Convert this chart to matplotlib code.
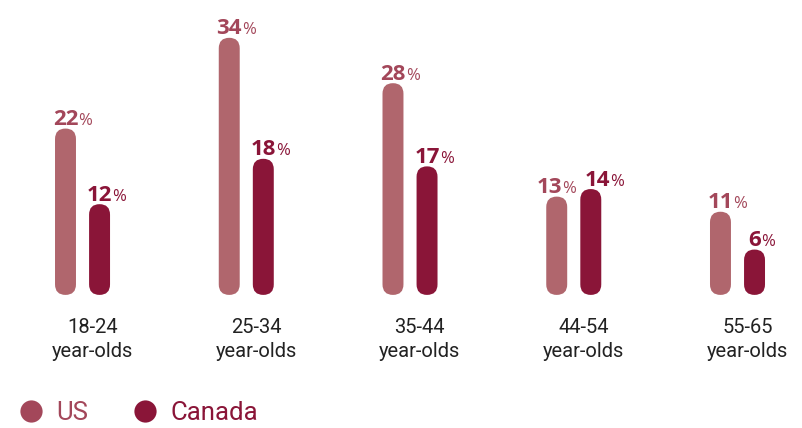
import matplotlib.pyplot as plt
from matplotlib.patches import FancyBboxPatch
from matplotlib.lines import Line2D

groups = ['18-24\nyear-olds', '25-34\nyear-olds', '35-44\nyear-olds',
          '44-54\nyear-olds', '55-65\nyear-olds']
us = [22, 34, 28, 13, 11]
canada = [12, 18, 17, 14, 6]

us_bar = '#b0666d'
us_text = '#a3475a'
ca_col = '#8a1538'

fig = plt.figure(figsize=(8.03, 4.28), dpi=100)
ax = fig.add_axes([0, 0, 1, 1])
ax.set_xlim(-0.504, 4.40)
ax.set_ylim(-17.6, 39.0)
ax.axis('off')

# rounded bars: corner radius is half the width, stretched by the axes aspect
w = 0.128
off = 0.104
to_px = ax.transData.transform
px_x = to_px((1, 0))[0] - to_px((0, 0))[0]
px_y = to_px((0, 1))[1] - to_px((0, 0))[1]
aspect = px_x / px_y

def bar(x, v, color):
    p = FancyBboxPatch((x - w / 2, 0), w, v,
                       boxstyle=f'round,pad=0,rounding_size={w / 2}',
                       mutation_aspect=aspect, fc=color, ec='none')
    ax.add_patch(p)

def value_label(x, v, color, dx=0):
    num = ax.annotate(str(v), (x, v), xytext=(dx, 2.5), textcoords='offset points',
                      ha='center', va='baseline', fontsize=16, fontweight='bold',
                      color=color, family='Open Sans')
    ax.annotate('%', (1, v), xycoords=(num, 'data'), xytext=(0, 2.5),
                textcoords='offset points', ha='left', va='baseline',
                fontsize=12, color=color, family='Open Sans')

for i, (u, c) in enumerate(zip(us, canada)):
    bar(i - off, u, us_bar)
    bar(i + off, c, ca_col)
    # push the labels apart when both bars are about the same height
    dx = 5 if abs(u - c) < 3 else 0
    value_label(i - off, u, us_text, -dx)
    value_label(i + off, c, ca_col, dx)
    ax.text(i + 0.06, -3.0, groups[i], ha='center', va='top', fontsize=14.5,
            family='Roboto', color='#222222', linespacing=1.35)

handles = [Line2D([], [], ls='none', marker='o', ms=16, color=us_text, mec='none'),
           Line2D([], [], ls='none', marker='o', ms=16, color=ca_col, mec='none')]
fig.legend(handles, ['US', 'Canada'], loc='center left', bbox_to_anchor=(0.022, 0.035),
           ncol=2, frameon=False, prop={'family': 'Roboto', 'size': 18.5},
           labelcolor=[us_text, ca_col], handlelength=1.0, handletextpad=0.5,
           columnspacing=1.7, borderaxespad=0, borderpad=0)

fig.savefig('out.png', dpi=100)
